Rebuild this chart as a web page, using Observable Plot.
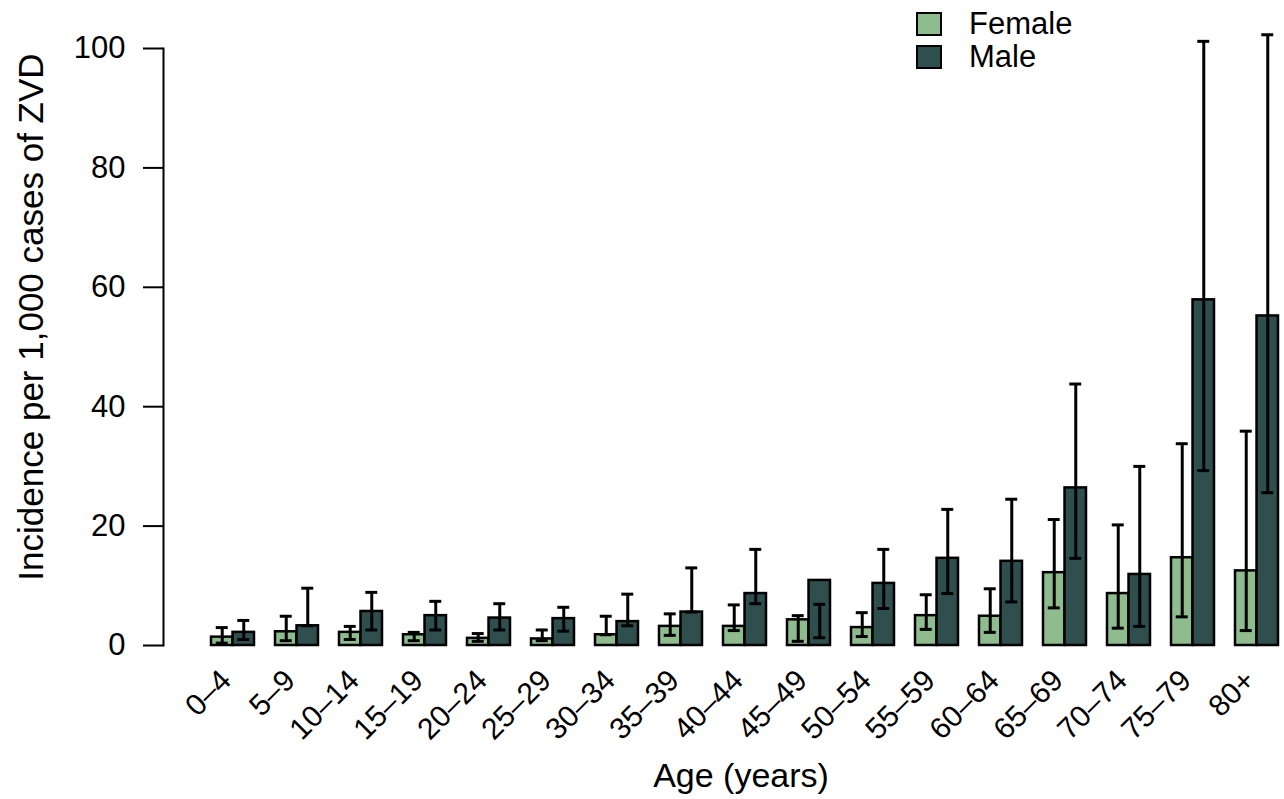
<!DOCTYPE html>
<html>
<head>
<meta charset="utf-8">
<script src="https://cdn.jsdelivr.net/npm/d3@7"></script>
<script src="https://cdn.jsdelivr.net/npm/@observablehq/plot@0.6"></script>
<style>
  html, body { margin: 0; padding: 0; background: #fff; }
  #wrap { position: relative; width: 1284px; height: 799px; font-family: "Liberation Sans", Arial, sans-serif; }
  #legend { position: absolute; left: 916px; top: 7px; font-size: 31px; line-height: 33px; color: #000; }
  .li { display: flex; align-items: center; height: 33px; }
  .sw { width: 22px; height: 20px; border: 2px solid #000; margin-right: 27px; box-sizing: content-box; }
</style>
</head>
<body>
<div id="wrap"><div id="legend"></div></div>
<script>
// ---- data ----
const ages = ["0–4","5–9","10–14","15–19","20–24","25–29","30–34","35–39","40–44","45–49","50–54","55–59","60–64","65–69","70–74","75–79","80+"];
const female   = [1.4, 2.3, 2.2, 1.8, 1.2, 1.1, 1.8, 3.2, 3.2, 4.3, 3.0, 5.0, 4.9, 12.2, 8.7, 14.7, 12.5];
const femaleLo = [0.4, 0.8, 1.0, 0.8, 0.7, 0.8, 1.8, 1.7, 2.5, 0.7, 1.5, 2.7, 2.2, 6.3, 2.9, 4.8, 2.5];
const femaleHi = [3.0, 4.9, 3.2, 2.2, 2.0, 2.6, 4.9, 5.3, 6.8, 5.0, 5.5, 8.5, 9.5, 21.1, 20.2, 33.8, 35.9];
const male     = [2.2, 3.3, 5.7, 5.0, 4.6, 4.5, 4.0, 5.6, 8.7, 10.9, 10.4, 14.6, 14.1, 26.4, 11.9, 57.9, 55.2];
const maleLo   = [1.0, 3.3, 2.6, 2.6, 2.6, 2.4, 3.3, 5.6, 7.0, 1.3, 6.2, 8.7, 7.3, 14.6, 3.2, 29.3, 25.6];
const maleHi   = [4.2, 9.6, 8.9, 7.4, 7.0, 6.4, 8.6, 13.0, 16.1, 6.9, 16.1, 22.8, 24.5, 43.8, 30.0, 101.2, 102.3];
const yTicks = [0, 20, 40, 60, 80, 100];
const sexes = ["Female", "Male"];
const colors = ["#8fbc8f", "#2f4f4f"];
const xLabel = "Age (years)";
const yLabel = "Incidence per 1,000 cases of ZVD";

// ---- layout ----
const W = 1284, H = 799, mL = 163, mR = 6, mT = 48, mB = 154;
const xOpts = {type: "band", domain: ages, range: [mL, W - mR], paddingInner: 1/3, paddingOuter: 0.3, align: 1};
const bw = Plot.scale({x: xOpts}).bandwidth;
const half = bw / 2, q = bw / 4, cap = 6;

const rows = ages.map((a, i) => ({age: a, f: female[i], fLo: femaleLo[i], fHi: femaleHi[i], m: male[i], mLo: maleLo[i], mHi: maleHi[i]}));
const font = "Liberation Sans, Arial, sans-serif";

const chart = Plot.plot({
  width: W, height: H,
  marginLeft: mL, marginRight: mR, marginTop: mT, marginBottom: mB,
  style: {fontFamily: font, fontSize: "30px", color: "#000", background: "transparent", overflow: "visible"},
  x: xOpts,
  y: {domain: [0, 100]},
  marks: [
    Plot.barY(rows, {x: "age", y: "f", fill: colors[0], stroke: "black", strokeWidth: 2.5, insetRight: half}),
    Plot.barY(rows, {x: "age", y: "m", fill: colors[1], stroke: "black", strokeWidth: 2.5, insetLeft: half}),
    Plot.ruleX(rows, {x: "age", y1: "fLo", y2: "fHi", dx: -q, strokeWidth: 3, stroke: "black"}),
    Plot.ruleX(rows, {x: "age", y1: "mLo", y2: "mHi", dx: q, strokeWidth: 3, stroke: "black"}),
    Plot.tickY(rows, {x: "age", y: "fHi", insetLeft: q - cap, insetRight: 3*q - cap, strokeWidth: 3, stroke: "black"}),
    Plot.tickY(rows, {x: "age", y: "fLo", insetLeft: q - cap, insetRight: 3*q - cap, strokeWidth: 3, stroke: "black"}),
    Plot.tickY(rows, {x: "age", y: "mHi", insetLeft: 3*q - cap, insetRight: q - cap, strokeWidth: 3, stroke: "black"}),
    Plot.tickY(rows, {x: "age", y: "mLo", insetLeft: 3*q - cap, insetRight: q - cap, strokeWidth: 3, stroke: "black"}),
    Plot.frame({anchor: "left", strokeWidth: 2, stroke: "black"}),
    Plot.axisY({ticks: yTicks, tickSize: 20, tickPadding: 18, strokeWidth: 2, fontSize: 31, label: null}),
    Plot.axisX({tickSize: 0, tickPadding: 30, tickRotate: -45, fontSize: 30, dx: -7, label: null}),
    Plot.text([xLabel], {text: d => d, frameAnchor: "bottom", dy: 141, dx: 20, fontSize: 34}),
    Plot.text([yLabel], {text: d => d, frameAnchor: "left", textAnchor: "middle", rotate: -90, dx: -132, dy: -30, fontSize: 35})
  ]
});
const wrap = document.getElementById("wrap");
wrap.insertBefore(chart, wrap.firstChild);

const legend = document.getElementById("legend");
sexes.forEach((s, i) => {
  const row = document.createElement("div");
  row.className = "li";
  const sw = document.createElement("span");
  sw.className = "sw";
  sw.style.background = colors[i];
  const t = document.createElement("span");
  t.textContent = s;
  row.appendChild(sw); row.appendChild(t);
  legend.appendChild(row);
});
</script>
</body>
</html>
